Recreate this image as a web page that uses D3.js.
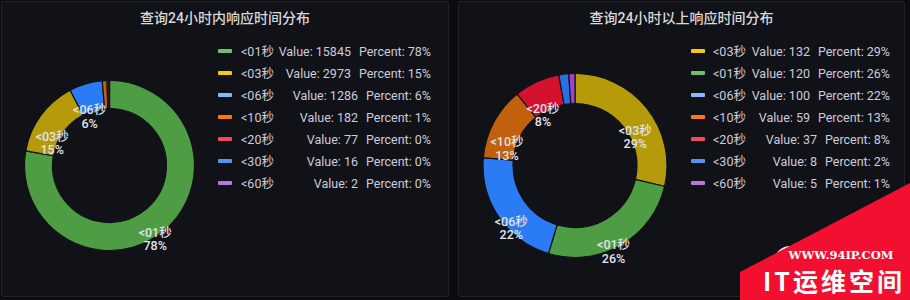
<!DOCTYPE html>
<html>
<head>
<meta charset="UTF-8">
<title>响应时间分布</title>
<script src="https://cdn.jsdelivr.net/npm/d3@7/dist/d3.min.js"></script>
<style>
  html, body { margin: 0; padding: 0; background: #0b0c0e; }
  svg { display: block; }
  text { font-family: Roboto, "Noto Sans CJK SC", sans-serif; }
</style>
</head>
<body>
<script>
// left panel: within 24h
var names1 = ["<01秒", "<03秒", "<06秒", "<10秒", "<20秒", "<30秒", "<60秒"];
var values1 = [15845, 2973, 1286, 182, 77, 16, 2];
// right panel: over 24h
var names2 = ["<03秒", "<01秒", "<06秒", "<10秒", "<20秒", "<30秒", "<60秒"];
var values2 = [132, 120, 100, 59, 37, 8, 5];

var titles = ["查询24小时内响应时间分布", "查询24小时以上响应时间分布"];

// slice colour / legend colour per bucket
var sliceColor = {
  "<01秒": "#4e9c43", "<03秒": "#b59a0a", "<06秒": "#2b7cf4", "<10秒": "#c1600d",
  "<20秒": "#d5122e", "<30秒": "#2c6fe2", "<60秒": "#9d44cf"
};
var legendColor = {
  "<01秒": "#73bf69", "<03秒": "#f2cc0c", "<06秒": "#8ab8ff", "<10秒": "#ff780a",
  "<20秒": "#f2495c", "<30秒": "#5794f2", "<60秒": "#b877d9"
};

var W = 910, H = 300;
var svg = d3.select("body").append("svg").attr("width", W).attr("height", H);

var panels = [
  {x: 1, w: 448, names: names1, values: values1, cx: 109.5, R: 85, r: 57, sw: 218, nx: 241, right: 431},
  {x: 458, w: 447, names: names2, values: values2, cx: 575, R: 92, r: 62, sw: 691, nx: 713, right: 890}
];

panels.forEach(function (p, pi) {
  var g = svg.append("g");
  g.append("rect").attr("x", p.x + 0.5).attr("y", 1.5).attr("width", p.w - 1).attr("height", 295)
    .attr("rx", 2).style("fill", "#111217").style("stroke", "#202226");

  g.append("text").attr("x", p.x + p.w / 2).attr("y", 23).attr("text-anchor", "middle")
    .style("fill", "#d8d9da").style("font-size", "14px").style("font-weight", 500)
    .text(titles[pi]);

  var data = p.names.map(function (n, i) { return {name: n, value: p.values[i]}; });
  var total = d3.sum(p.values);
  var pct = function (v) { return Math.round(v / total * 100) + "%"; };

  var pie = d3.pie().sort(null).value(function (d) { return d.value; });
  var arc = d3.arc().innerRadius(p.r).outerRadius(p.R).cornerRadius(1.5);
  var arcs = pie(data);
  var cy = 165.5;

  var donut = g.append("g").attr("transform", "translate(" + p.cx + "," + cy + ")");
  donut.selectAll("path").data(arcs).enter().append("path")
    .attr("d", arc)
    .style("fill", function (d) { return sliceColor[d.data.name]; })
    .style("stroke", "#111217").style("stroke-width", 1.2);

  var mid = (p.R + p.r) / 2;
  var lab = donut.selectAll("text").data(arcs.filter(function (d) { return d.endAngle - d.startAngle >= 0.3; }))
    .enter().append("text")
    .attr("text-anchor", "middle")
    .style("fill", "#e2e3ec").style("font-size", "12.5px").style("font-weight", 500);
  lab.each(function (d) {
    var a = (d.startAngle + d.endAngle) / 2 - Math.PI / 2;
    var lx = Math.cos(a) * mid, ly = Math.sin(a) * mid;
    var t = d3.select(this);
    t.append("tspan").attr("x", lx).attr("y", ly + 17).text(d.data.name);
    t.append("tspan").attr("x", lx).attr("y", ly + 30.5).text(pct(d.data.value));
  });

  var leg = g.selectAll(".leg").data(data).enter().append("g")
    .attr("transform", function (d, i) { return "translate(0," + (51 + i * 22) + ")"; });
  leg.append("rect").attr("x", p.sw).attr("y", -2).attr("width", 14).attr("height", 4).attr("rx", 1)
    .style("fill", function (d) { return legendColor[d.name]; });
  leg.append("text").attr("x", p.nx).attr("y", 4.5)
    .style("fill", "#ccccdc").style("font-size", "12.5px").text(function (d) { return d.name; });
  leg.each(function (d) {
    var row = d3.select(this);
    var pt = row.append("text").attr("x", p.right).attr("y", 4.5).attr("text-anchor", "end")
      .style("fill", "#ccccdc").style("font-size", "12.5px").text("Percent: " + pct(d.value));
    var w = pt.node().getComputedTextLength();
    row.append("text").attr("x", p.right - w - 8).attr("y", 4.5).attr("text-anchor", "end")
      .style("fill", "#ccccdc").style("font-size", "12.5px").text("Value: " + d.value);
  });
});

// site watermark in the bottom-right corner
var wm = svg.append("g");
wm.append("circle").attr("cx", 790).attr("cy", 262).attr("r", 16).style("fill", "#f2f2f2");
wm.append("path").attr("d", "M740,272 L910,183 L910,300 L740,300 Z").style("fill", "#f20f2f");
wm.append("text").attr("x", 841).attr("y", 259).attr("text-anchor", "middle")
  .style("font-family", "'DejaVu Serif', serif").style("font-weight", "bold").style("font-size", "11.5px")
  .style("fill", "#ffffff").text("WWW.94IP.COM");
wm.append("text").attr("x", 834).attr("y", 291).attr("text-anchor", "middle")
  .style("font-family", "'Noto Sans CJK SC', sans-serif").style("font-weight", "bold").style("font-size", "25px")
  .style("letter-spacing", "3px").style("fill", "#ffffff").text("IT运维空间");
</script>
</body>
</html>
